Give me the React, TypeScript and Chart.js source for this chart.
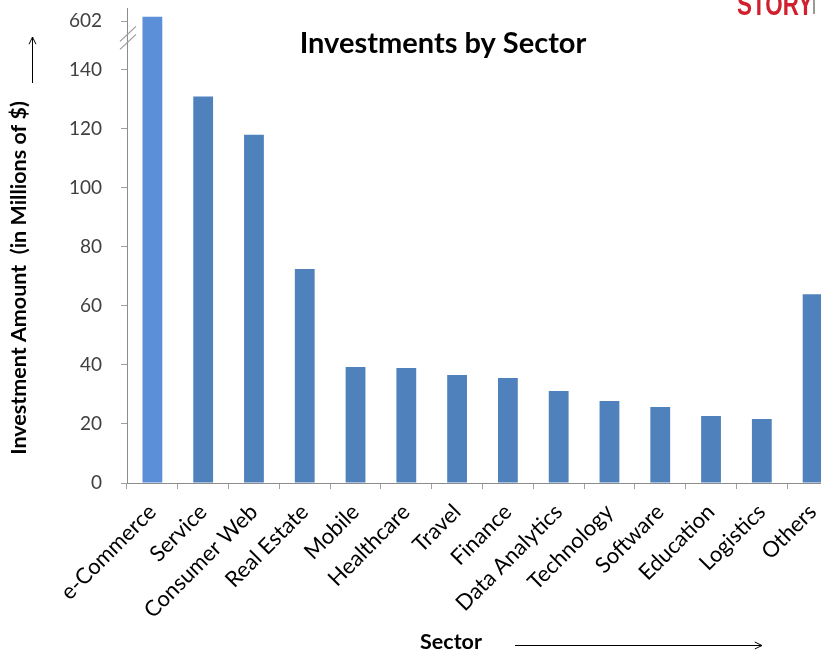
import React, { useEffect, useRef } from "react";
import { Chart, registerables } from "chart.js";

Chart.register(...registerables);

// ---- data ----
const sectors = [
  "e-Commerce",
  "Service",
  "Consumer Web",
  "Real Estate",
  "Mobile",
  "Healthcare",
  "Travel",
  "Finance",
  "Data Analytics",
  "Technology",
  "Software",
  "Education",
  "Logistics",
  "Others",
];
const investments = [602, 131, 118, 72.5, 39.3, 39, 36.6, 35.6, 31.2, 27.8, 25.8, 22.7, 21.7, 64];
const yTickValues = [0, 20, 40, 60, 80, 100, 120, 140, 602];

// ---- broken axis settings ----
const AXIS_BREAK = 140; // linear up to here
const BREAK_POS = 158; // where values above the break are drawn
const Y_MAX = 161;
const mapY = (v: number) => (v <= AXIS_BREAK ? v : BREAK_POS);

const FONT = 'Lato, "Open Sans", "DejaVu Sans", sans-serif';

function arrow(ctx: CanvasRenderingContext2D, x1: number, y1: number, x2: number, y2: number) {
  const ang = Math.atan2(y2 - y1, x2 - x1);
  const h = 8;
  ctx.beginPath();
  ctx.moveTo(x1, y1);
  ctx.lineTo(x2, y2);
  ctx.moveTo(x2 - h * Math.cos(ang - 0.45), y2 - h * Math.sin(ang - 0.45));
  ctx.lineTo(x2, y2);
  ctx.lineTo(x2 - h * Math.cos(ang + 0.45), y2 - h * Math.sin(ang + 0.45));
  ctx.stroke();
}

const decorPlugin = {
  id: "decor",
  afterDraw(chart: any) {
    const ctx: CanvasRenderingContext2D = chart.ctx;
    const area = chart.chartArea;
    const yScale = chart.scales.y;
    ctx.save();

    // title
    ctx.fillStyle = "#000";
    ctx.font = `bold 29px ${FONT}`;
    ctx.textAlign = "center";
    ctx.textBaseline = "middle";
    ctx.fillText("Investments by Sector", 443, 44);

    // y axis title
    ctx.save();
    ctx.translate(19, 278);
    ctx.rotate(-Math.PI / 2);
    ctx.font = `bold 21.5px ${FONT}`;
    ctx.fillText("Investment Amount  (in Millions of $)", 0, 0);
    ctx.restore();

    // x axis title
    ctx.font = `bold 21.5px ${FONT}`;
    ctx.fillText("Sector", 451, 642);

    // arrows
    ctx.strokeStyle = "#000";
    ctx.lineWidth = 1;
    arrow(ctx, 32.5, 83, 32.5, 37);
    arrow(ctx, 515, 645.5, 762, 645.5);

    // axis break marks
    const yb = (yScale.getPixelForValue(AXIS_BREAK) + yScale.getPixelForValue(BREAK_POS)) / 2 - 5;
    const x0 = area.left;
    ctx.strokeStyle = "#9a9a9a";
    ctx.lineWidth = 1.2;
    for (const off of [-4, 4]) {
      ctx.beginPath();
      ctx.moveTo(x0 - 7, yb + off + 7);
      ctx.lineTo(x0 + 9, yb + off - 8);
      ctx.stroke();
    }

    // logo (cropped at top)
    ctx.save();
    ctx.fillStyle = "#d0202e";
    ctx.font = 'bold 32px "Liberation Sans", Arial, sans-serif';
    ctx.textAlign = "left";
    ctx.textBaseline = "alphabetic";
    ctx.translate(737, 15);
    ctx.scale(0.7, 1);
    ctx.fillText("STORY", 0, 0);
    ctx.restore();
    ctx.fillStyle = "#999";
    ctx.fillRect(813, 0, 2, 14);

    ctx.restore();
  },
};

export default function App() {
  const ref = useRef<HTMLCanvasElement>(null);

  useEffect(() => {
    if (!ref.current) return;
    const chart = new Chart(ref.current, {
      type: "bar",
      data: {
        labels: sectors,
        datasets: [
          {
            data: investments.map(mapY),
            backgroundColor: investments.map((_, i) => (i === 0 ? "#5b8fd7" : "#4f81bd")),
            borderWidth: 0,
            categoryPercentage: 1,
            barPercentage: 0.39,
          },
        ],
      },
      options: {
        animation: false,
        responsive: false,
        devicePixelRatio: 1,
        layout: { padding: { top: 8, left: 0, right: 2, bottom: 0 } },
        plugins: {
          legend: { display: false },
          tooltip: { enabled: false },
          title: { display: false },
        },
        scales: {
          x: {
            grid: {
              display: true,
              drawOnChartArea: false,
              drawTicks: true,
              tickLength: 6,
              color: "#a0a0a0",
              offset: true,
            },
            border: { color: "#8c8c8c", width: 1 },
            ticks: {
              autoSkip: false,
              maxRotation: 45,
              minRotation: 45,
              padding: 10,
              color: "#000",
              font: { family: FONT, size: 22 },
            },
            afterFit: (s: any) => {
              s.height = 170;
              s.paddingLeft = 0;
              s.paddingRight = 0;
              s.paddingTop = 0;
              s.paddingBottom = 0;
            },
          },
          y: {
            min: 0,
            max: Y_MAX,
            grid: {
              display: true,
              drawOnChartArea: false,
              drawTicks: true,
              tickLength: 6,
              color: "#a0a0a0",
            },
            border: { color: "#8c8c8c", width: 1 },
            afterBuildTicks: (s: any) => {
              s.ticks = yTickValues.map((v) => ({ value: v <= AXIS_BREAK ? v : BREAK_POS - 1.5 }));
            },
            ticks: {
              padding: 19,
              color: "#404040",
              font: { family: FONT, size: 19 },
              callback: (_v: any, i: number) => String(yTickValues[i]),
            },
            afterFit: (s: any) => {
              s.width = 127;
              s.paddingTop = 0;
              s.paddingBottom = 0;
              s.paddingLeft = 0;
              s.paddingRight = 0;
            },
          },
        },
      },
      plugins: [decorPlugin],
    });
    return () => chart.destroy();
  }, []);

  return (
    <div
      style={{
        position: "fixed",
        left: 0,
        top: 0,
        width: 821,
        height: 653,
        overflow: "hidden",
        background: "#fff",
      }}
    >
      <canvas ref={ref} width={840} height={653} style={{ display: "block", width: 840, height: 653 }} />
    </div>
  );
}
